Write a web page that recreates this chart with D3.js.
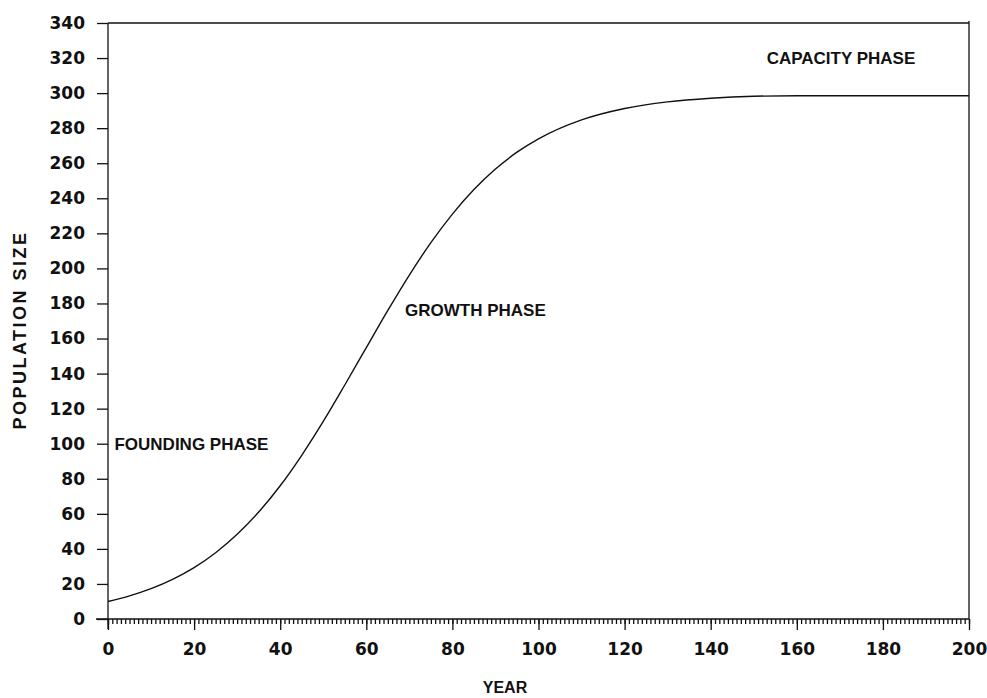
<html>
<head>
  <script src="https://d3js.org/d3.v7.min.js"></script>
  <style>
    body { margin: 0; background: #fff; }
    text { font-family: "Liberation Sans", Arial, sans-serif; font-weight: bold; fill: #111; }
    .axis text { font-family: "DejaVu Sans", sans-serif; }
    .axis path, .axis line { stroke: #111; stroke-width: 1.3; }
  </style>
</head>
<body>
  <div id="plot"></div>
  <script>

    // values
    var years = [0, 5, 10, 15, 20, 25, 30, 35, 40, 45, 50, 55, 60, 65, 70, 75, 80, 85, 90, 95, 100,
                 110, 120, 130, 140, 150, 160, 170, 180, 190, 200];
    var population = [10, 13.2, 17.3, 22.6, 29.3, 37.8, 48.3, 61, 76, 93.4, 112.7, 133.5, 154.8, 176, 196.2, 214.7, 231, 245, 256.7, 266.3, 273.9,
                      284.7, 291.2, 295, 297.1, 298.2, 298.5, 298.5, 298.5, 298.5, 298.5];
    var xTicks = [0, 20, 40, 60, 80, 100, 120, 140, 160, 180, 200];
    var yTicks = [0, 20, 40, 60, 80, 100, 120, 140, 160, 180, 200, 220, 240, 260, 280, 300, 320, 340];
    var phases = [
      {name: "FOUNDING PHASE", year: 1.5, value: 100},
      {name: "GROWTH PHASE", year: 69, value: 176},
      {name: "CAPACITY PHASE", year: 153, value: 320}
    ];

    var w = 987, h = 698;
    var plotLeft = 108, plotRight = 969, plotTop = 23, plotBottom = 619;

    var svg = d3.select('#plot').append("svg")
              .attr("width", w)
              .attr("height", h);

    var x = d3.scaleLinear().domain([0, 200]).range([plotLeft, plotRight]);
    var y = d3.scaleLinear().domain([0, 340]).range([plotBottom, plotTop]);

    // minor ticks every year
    svg.append("g")
      .attr("class", "axis")
      .attr("transform", "translate(0," + plotBottom + ")")
      .call(d3.axisBottom(x).tickValues(d3.range(0, 201, 1)).tickSize(5).tickFormat("").tickSizeOuter(0))
      .select(".domain").remove();

    // x axis
    var xg = svg.append("g")
      .attr("class", "axis")
      .attr("transform", "translate(0," + plotBottom + ")")
      .call(d3.axisBottom(x).tickValues(xTicks).tickSize(11).tickSizeOuter(0).tickPadding(13));
    xg.select(".domain").attr("d", "M" + (plotLeft - 12) + ",0H" + plotRight);
    xg.selectAll("text").style("font-size", "17px").attr("fill", "#111");

    // y axis
    var yg = svg.append("g")
      .attr("class", "axis")
      .attr("transform", "translate(" + plotLeft + ",0)")
      .call(d3.axisLeft(y).tickValues(yTicks).tickSize(11).tickSizeOuter(0).tickPadding(12));
    yg.select(".domain").attr("d", "M0," + (plotBottom + 10) + "V" + plotTop);
    yg.selectAll("text").style("font-size", "17px").attr("fill", "#111");

    // frame top and right
    svg.append("line")
      .attr("x1", x(0)).attr("x2", x(200))
      .attr("y1", y(340)).attr("y2", y(340))
      .attr("stroke", "#111").attr("stroke-width", 1.3);
    svg.append("line")
      .attr("x1", x(200)).attr("x2", x(200))
      .attr("y1", y(340) - 2).attr("y2", y(0))
      .attr("stroke", "#111").attr("stroke-width", 1.3);

    var lineFunc = d3.line()
      .x(function(d, i) { return x(years[i]); })
      .y(function(d) { return y(d); })
      .curve(d3.curveMonotoneX);

    svg.append("path")
      .attr("d", lineFunc(population))
      .attr("fill", "none")
      .attr("stroke", "#111")
      .attr("stroke-width", 1.4);

    // phase labels
    svg.selectAll(".phase").data(phases).enter()
      .append("text")
      .attr("class", "phase")
      .attr("x", function(d) { return x(d.year); })
      .attr("y", function(d) { return y(d.value); })
      .attr("dy", "0.35em")
      .style("font-size", "17px")
      .text(function(d) { return d.name; });

    // axis titles
    svg.append("text")
      .attr("x", 505)
      .attr("y", 693)
      .style("text-anchor", "middle")
      .style("font-size", "16px")
      .text("YEAR");

    svg.append("text")
      .attr("transform", "translate(26,330) rotate(-90)")
      .style("text-anchor", "middle")
      .style("font-size", "18px")
      .style("letter-spacing", "2.5px")
      .text("POPULATION SIZE");
  </script>
</body>
</html>
